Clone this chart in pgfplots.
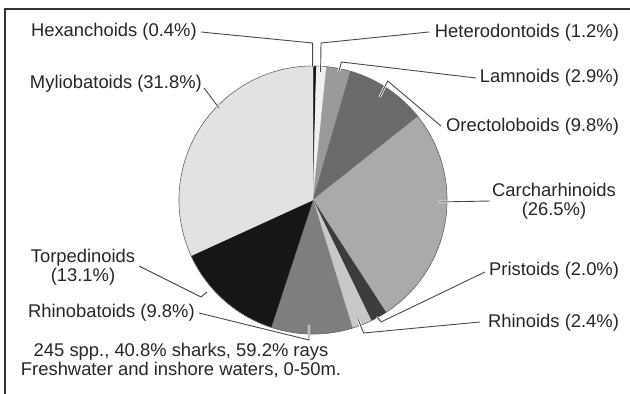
\documentclass[border=0pt]{standalone}
\usepackage{pgfplots}
\pgfplotsset{compat=1.18}
\usepackage{fontspec}
\setmainfont{Liberation Sans}
\definecolor{txt}{HTML}{262626}
\definecolor{lead}{HTML}{4A4A4A}
\definecolor{cHexa}{HTML}{141414}
\definecolor{cHetero}{HTML}{F0F0F0}
\definecolor{cLamn}{HTML}{9A9A9A}
\definecolor{cOrect}{HTML}{6A6A6A}
\definecolor{cCarch}{HTML}{AAAAAA}
\definecolor{cPrist}{HTML}{3C3C3C}
\definecolor{cRhin}{HTML}{C8C8C8}
\definecolor{cRhinob}{HTML}{7E7E7E}
\definecolor{cTorp}{HTML}{161616}
\definecolor{cMylio}{HTML}{E2E2E2}
% share of species (%), clockwise from the top
\def\piedata{0.4/cHexa, 1.2/cHetero, 2.9/cLamn, 9.8/cOrect, 26.5/cCarch, 2.0/cPrist, 2.4/cRhin, 9.8/cRhinob, 13.1/cTorp, 31.8/cMylio}
\def\pietotal{99.9}
\def\cumstart{0}
\tikzset{lbl/.style={font=\fontsize{18.4}{19}\selectfont, text=txt, inner sep=0pt, outer sep=0pt}}
\begin{document}
\begin{tikzpicture}
\useasboundingbox (0,0) rectangle (630pt,394pt);
\begin{axis}[at={(0,0)}, anchor=south west, scale only axis,
  width=630pt, height=394pt, xmin=0, xmax=630, ymin=0, ymax=394,
  axis lines=none, clip=false,
  leader/.style={lead, line width=0.9pt, no marks, preaction={draw=white, line width=2.4pt}}]
\foreach \v/\c in \piedata {
  \pgfmathsetmacro\a{90-\cumstart/\pietotal*360}
  \pgfmathsetmacro\b{90-(\cumstart+\v)/\pietotal*360}
  \edef\temp{\noexpand\addplot[fill=\c, draw=\c, line width=0.3pt, domain=\b:\a, samples=60, variable=\noexpand\t] ({313+134*cos(\noexpand\t)},{194+134*sin(\noexpand\t)}) -- (axis cs:313,194) -- cycle;}
  \temp
  \pgfmathsetmacro\n{\cumstart+\v}
  \xdef\cumstart{\n}
}
\draw[gray!80!black, line width=0.6pt] (axis cs:313,194) circle[radius=134];
% frame
\draw[black!80, line width=2pt] (axis cs:5,0) -- (axis cs:5,385) -- (axis cs:630,385);
% leader lines
\addplot[leader] coordinates {(201,362) (312.6,351) (312.6,327)};
\addplot[leader] coordinates {(429,362) (321,351) (320.6,322)};
\addplot[leader] coordinates {(476,316) (341.5,332) (338.7,322)};
\addplot[leader] coordinates {(441,268) (387.7,313) (379.7,297)};
\addplot[leader] coordinates {(490,193) (438,192)};
\addplot[leader] coordinates {(485,122) (381,72) (377,77)};
\addplot[leader] coordinates {(480,72) (363.6,61) (358,75)};
\addplot[leader] coordinates {(199,81) (309,54) (309,69)};
\addplot[leader] coordinates {(139,128) (201,97) (207,102)};
\addplot[leader] coordinates {(204,306) (219,286)};
% labels
\node[lbl, anchor=west] at (axis cs:31,362) {Hexanchoids (0.4\%)};
\node[lbl, anchor=west] at (axis cs:30,310) {Myliobatoids (31.8\%)};
\node[lbl, anchor=west] at (axis cs:28,81) {Rhinobatoids (9.8\%)};
\node[lbl, align=center] at (axis cs:83,126.5) {Torpedinoids\\(13.1\%)};
\node[lbl, anchor=east] at (axis cs:619,361) {Heterodontoids (1.2\%)};
\node[lbl, anchor=east] at (axis cs:619,316) {Lamnoids (2.9\%)};
\node[lbl, anchor=east] at (axis cs:619,267) {Orectoloboids (9.8\%)};
\node[lbl, align=center] at (axis cs:554,192.5) {Carcharhinoids\\(26.5\%)};
\node[lbl, anchor=east] at (axis cs:619,123) {Pristoids (2.0\%)};
\node[lbl, anchor=east] at (axis cs:619,71) {Rhinoids (2.4\%)};
\node[lbl, align=center] at (axis cs:181,33) {245 spp., 40.8\% sharks, 59.2\% rays\\Freshwater and inshore waters, 0-50m.};
\end{axis}
\end{tikzpicture}
\end{document}
